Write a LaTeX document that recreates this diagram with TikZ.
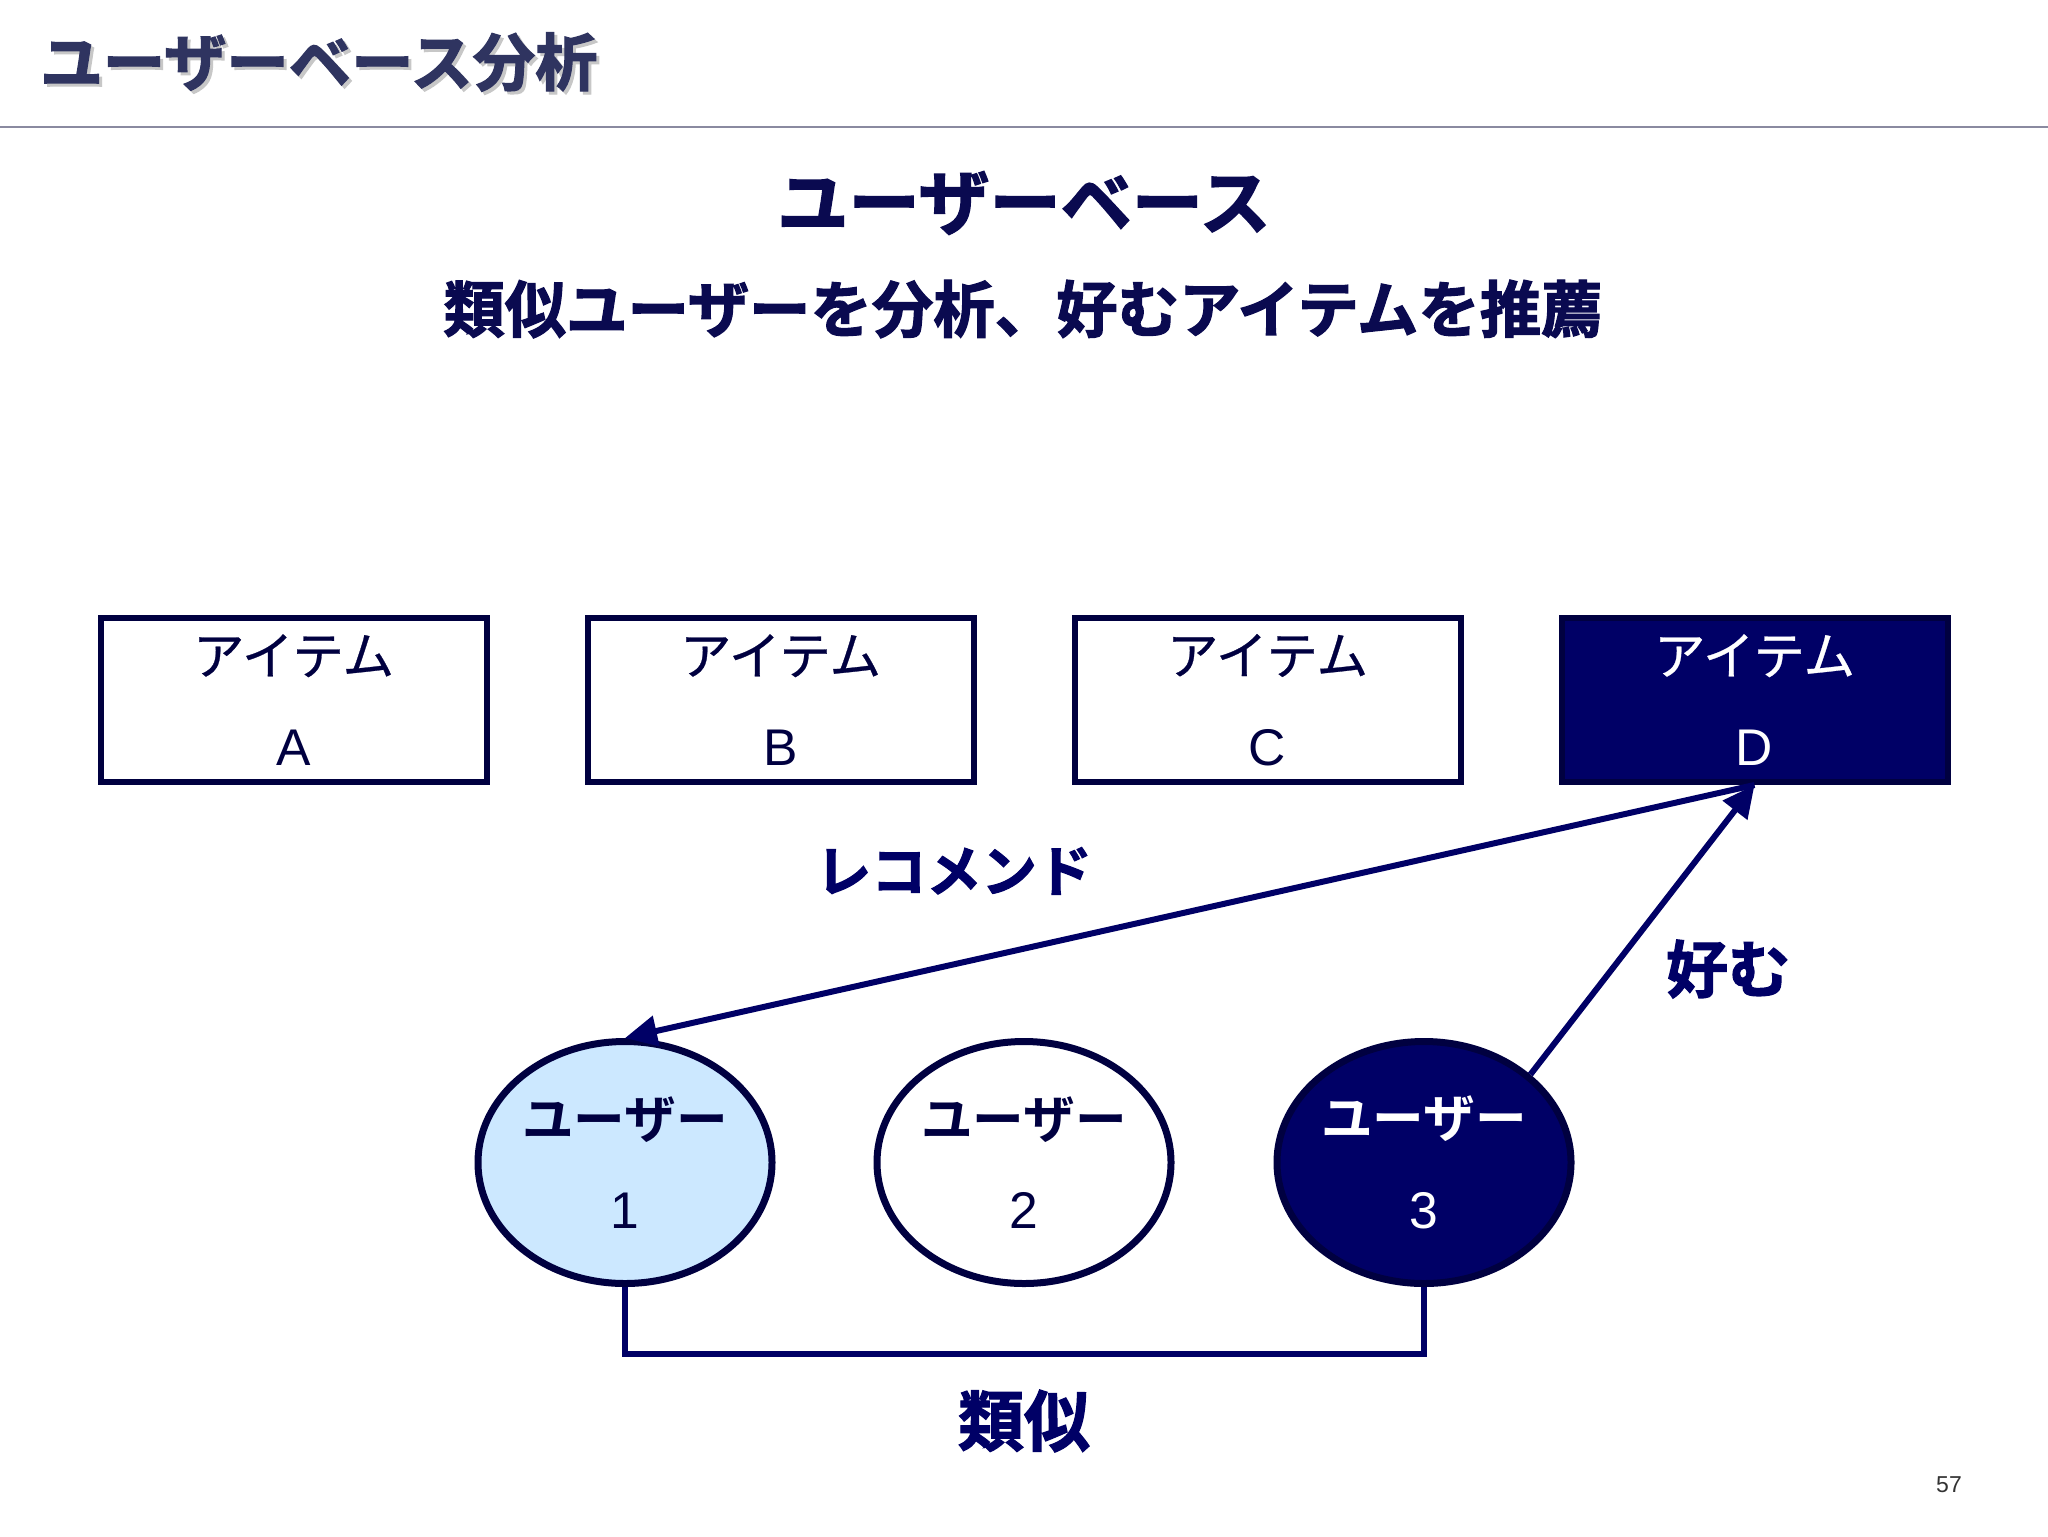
\documentclass[tikz,border=0pt]{standalone}
\usepackage{fontspec}
\setmainfont{Liberation Sans}
\newfontfamily\jpreg[FakeBold=0.5]{Noto Sans CJK JP}
\newfontfamily\jpbold{Noto Sans CJK JP Bold}
\newfontfamily\jpheavy[FakeBold=2]{Noto Sans CJK JP Bold}
\usetikzlibrary{shapes.geometric,arrows.meta}
\definecolor{navy}{HTML}{000066}
\definecolor{inkd}{HTML}{000040}
\definecolor{titlec}{HTML}{2F3460}
\definecolor{headc}{HTML}{0A0A50}
\definecolor{pale}{HTML}{CCE8FF}
\definecolor{rulec}{HTML}{8A8AA0}
\tikzset{
  x=0.5pt,y=-0.5pt,
  itembox/.style={draw=inkd,line width=3pt,minimum width=193pt,minimum height=82pt,inner sep=0pt,align=center,text=inkd,font=\fontsize{25.8}{45.5}\selectfont},
  userell/.style={ellipse,draw=inkd,line width=3.5pt,minimum width=147pt,minimum height=121pt,inner sep=0pt,align=center,text=inkd,font=\fontsize{25.8}{45.2}\selectfont},
  wire/.style={draw=navy,line width=3pt},
  tipped/.style={wire,-{Triangle[length=16pt,width=15pt]}},
  lab/.style={text=navy,inner sep=0pt},
}
\begin{document}
\begin{tikzpicture}
\useasboundingbox (0,0) rectangle (2048,1536);
\fill[white] (0,0) rectangle (2048,1536);
% title
\node[text=black!22,inner sep=0pt,font=\jpheavy\fontsize{31.2}{31.2}\selectfont] (titleshadow) at (322,65) {ユーザーベース分析};
\node[text=titlec,inner sep=0pt,font=\jpheavy\fontsize{31.2}{31.2}\selectfont] (title) at (319,62) {ユーザーベース分析};
\coordinate (ruleL) at (0,127);
\coordinate (ruleR) at (2048,127);
\draw[draw=rulec,line width=0.8pt] (ruleL) -- (ruleR);
% headings
\node[text=headc,inner sep=0pt,font=\jpheavy\fontsize{35.6}{35.6}\selectfont] (head) at (1024,203) {ユーザーベース};
\node[text=headc,inner sep=0pt,font=\jpheavy\fontsize{30.7}{30.7}\selectfont] (sub) at (1023,309) {類似ユーザーを分析、好むアイテムを推薦};
% items
\node[itembox] (a) at (293.5,700) {{\jpreg アイテム}\\A};
\node[itembox] (b) at (780.5,700) {{\jpreg アイテム}\\B};
\node[itembox] (c) at (1267.5,700) {{\jpreg アイテム}\\C};
\node[itembox,fill=navy,text=white] (d) at (1754.5,700) {{\jpreg アイテム}\\D};
% users
\node[userell,fill=pale] (u1) at (625,1162.5) {{\jpbold ユーザー}\\1};
\node[userell,fill=white] (u2) at (1024,1162.5) {{\jpbold ユーザー}\\2};
\node[userell,fill=navy,text=white] (u3) at (1424,1162.5) {{\jpbold ユーザー}\\3};
% connectors
\draw[tipped] (d.south) -- (u1.north);
\draw[tipped] (u3.north east) -- (d.south);
\coordinate (mid) at (1024,1354);
\draw[wire] (u1.south) |- (mid) -| (u3.south);
% labels
\node[lab,font=\jpheavy\fontsize{27.6}{27.6}\selectfont] (rec) at (954,871) {レコメンド};
\node[lab,font=\jpheavy\fontsize{31}{31}\selectfont] (like) at (1728,969) {好む};
\node[lab,font=\jpheavy\fontsize{33}{33}\selectfont] (sim) at (1024,1421) {類似};
\node[inner sep=0pt,font=\fontsize{11.5}{11.5}\selectfont,text=black!80] (page) at (1949,1485) {57};
\end{tikzpicture}
\end{document}
